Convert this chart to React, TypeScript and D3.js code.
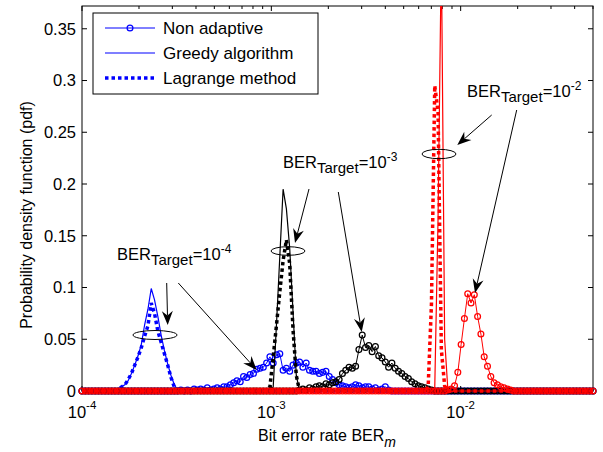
import React from 'react'
import * as d3 from 'd3'

const W = 603
const H = 452
const PLOT = { left: 82, top: 6, right: 593, bottom: 391 }

// log-spaced histogram bins over the BER axis
const BER_MIN = 1e-4
const BER_MAX = 5e-2
const N_BINS = 155
const PDF_MAX = 0.372

const yTicks = [0, 0.05, 0.1, 0.15, 0.2, 0.25, 0.3, 0.35]
const yTickLabels = ['0', '0.05', '0.1', '0.15', '0.2', '0.25', '0.3', '0.35']
const xMajorTicks = [1e-4, 1e-3, 1e-2]
const xMajorExp = ['-4', '-3', '-2']

// pdf values, given from the first non-zero bin (zero elsewhere)
const blueNonAdaptive = {
  start: 30,
  values: [0.001, 0, 0.001, 0, 0.002, 0.001, 0.002, 0.001, 0.003, 0.001,
    0.002, 0.003, 0.002, 0.004, 0.004, 0.006, 0.008, 0.010, 0.009, 0.014,
    0.013, 0.016, 0.017, 0.021, 0.022, 0.023, 0.027, 0.033, 0.027, 0.035,
    0.036, 0.020, 0.022, 0.019, 0.025, 0.027, 0.028, 0.023, 0.027, 0.020,
    0.019, 0.019, 0.017, 0.018, 0.019, 0.014, 0.011, 0.008, 0.006, 0.005,
    0.004, 0.003, 0.004, 0.006, 0.005, 0.003, 0.004, 0.004, 0.002, 0.003,
    0.001, 0.002, 0.004, 0.001]
}
const blueGreedy = {
  start: 10,
  values: [0.001, 0.002, 0.004, 0.006, 0.010, 0.017, 0.025, 0.034, 0.045, 0.064,
    0.079, 0.099, 0.088, 0.072, 0.054, 0.039, 0.026, 0.015, 0.006, 0.001]
}
const blueLagrange = {
  start: 11,
  values: [0.002, 0.004, 0.006, 0.011, 0.017, 0.025, 0.033, 0.042, 0.053, 0.063,
    0.085, 0.075, 0.058, 0.047, 0.036, 0.025, 0.013, 0.004, 0.001]
}
const blackNonAdaptive = {
  start: 66,
  values: [0.001, 0.002, 0.001, 0.003, 0.002, 0.004, 0.005, 0.004, 0.007, 0.006,
    0.008, 0.009, 0.011, 0.017, 0.020, 0.023, 0.022, 0.024, 0.040, 0.054,
    0.042, 0.044, 0.038, 0.043, 0.034, 0.032, 0.028, 0.023, 0.027, 0.022,
    0.019, 0.017, 0.014, 0.012, 0.009, 0.007, 0.005, 0.004, 0.003, 0.002, 0.001]
}
const blackGreedy = {
  start: 58,
  values: [0.004, 0.065, 0.13, 0.195, 0.176, 0.138, 0.077, 0.015]
}
const blackLagrange = {
  start: 57,
  values: [0.004, 0.033, 0.064, 0.096, 0.126, 0.146, 0.123, 0.06, 0.015]
}
const redNonAdaptive = {
  start: 111,
  values: [0.001, 0.002, 0.005, 0.018, 0.045, 0.070, 0.094, 0.085, 0.093, 0.072,
    0.055, 0.033, 0.024, 0.014, 0.008, 0.006, 0.004, 0.003, 0.002, 0.001]
}
const redGreedy = { start: 107, values: [0.003, 0.167, 0.425, 0.05] }
const redLagrange = { start: 105, values: [0.004, 0.084, 0.295, 0.27, 0.04, 0.005] }

const FONT = 'Liberation Sans, Arial, Helvetica, sans-serif'

const x = d3.scaleLog().domain([BER_MIN, BER_MAX]).range([PLOT.left, PLOT.right])
const y = d3.scaleLinear().domain([0, PDF_MAX]).range([PLOT.bottom, PLOT.top])

const grid = d3.range(N_BINS + 1).map(i => BER_MIN * Math.pow(BER_MAX / BER_MIN, i / N_BINS))

const expand = (s: { start: number; values: number[] }) =>
  grid.map((b, i) => {
    const k = i - s.start
    return { b, v: k >= 0 && k < s.values.length ? s.values[k] : 0 }
  })

const line = d3.line<{ b: number; v: number }>().x(d => x(d.b)).y(d => y(d.v))

const minorTicks: number[] = []
xMajorTicks.forEach(k => {
  for (let m = 2; m <= 9; m++) if (k * m <= BER_MAX * 1.0001) minorTicks.push(k * m)
})

type S = { start: number; values: number[] }
const groups: { color: string; na: S; gr: S; lg: S }[] = [
  { color: '#0000ff', na: blueNonAdaptive, gr: blueGreedy, lg: blueLagrange },
  { color: '#000000', na: blackNonAdaptive, gr: blackGreedy, lg: blackLagrange },
  { color: '#ff0000', na: redNonAdaptive, gr: redGreedy, lg: redLagrange }
]

const DOT = '3.5 3'
const MR = 2.9
const MW = 1.25

const Arrow = ({ x1, y1, x2, y2 }: { x1: number; y1: number; x2: number; y2: number }) => {
  const a = Math.atan2(y2 - y1, x2 - x1)
  const len = 14, half = 5.5, notch = 9.5
  const ux = Math.cos(a), uy = Math.sin(a)
  const px = -uy, py = ux
  const bx = x2 - ux * len, by = y2 - uy * len
  const nx = x2 - ux * notch, ny = y2 - uy * notch
  const pts = [
    [x2, y2],
    [bx + px * half, by + py * half],
    [nx, ny],
    [bx - px * half, by - py * half]
  ].map(p => p.join(',')).join(' ')
  return (
    <g>
      <line x1={x1} y1={y1} x2={nx} y2={ny} stroke="#000" strokeWidth={1} />
      <polygon points={pts} fill="#000" />
    </g>
  )
}

const Target = ({ tx, ty, exp }: { tx: number; ty: number; exp: string }) => (
  <text x={tx} y={ty} fontSize={16.5} fontFamily={FONT} fill="#000">
    BER<tspan dy={5} fontSize={15}>Target</tspan>
    <tspan dy={-5}>=10</tspan>
    <tspan dy={-7} fontSize={12}>{exp}</tspan>
  </text>
)

export default function App() {
  return (
    <svg width={W} height={H} style={{ position: 'absolute', left: 0, top: 0, background: '#fff' }}
      fontFamily={FONT}>
      <defs>
        <clipPath id="plotClip">
          <rect x={PLOT.left - 2} y={PLOT.top} width={PLOT.right - PLOT.left + 4} height={PLOT.bottom - PLOT.top + 8} />
        </clipPath>
      </defs>
      <rect x={0} y={0} width={W} height={H} fill="#fff" />

      {/* axes box */}
      <rect x={PLOT.left} y={PLOT.top} width={PLOT.right - PLOT.left} height={PLOT.bottom - PLOT.top}
        fill="none" stroke="#000" strokeWidth={1} />
      {yTicks.map(t => (
        <g key={'y' + t}>
          <line x1={PLOT.left} x2={PLOT.left + 5} y1={y(t)} y2={y(t)} stroke="#000" />
          <line x1={PLOT.right} x2={PLOT.right - 5} y1={y(t)} y2={y(t)} stroke="#000" />
        </g>
      ))}
      {xMajorTicks.map(t => (
        <g key={'x' + t}>
          <line x1={x(t)} x2={x(t)} y1={PLOT.bottom} y2={PLOT.bottom - 5} stroke="#000" />
          <line x1={x(t)} x2={x(t)} y1={PLOT.top} y2={PLOT.top + 5} stroke="#000" />
        </g>
      ))}
      {minorTicks.map(t => (
        <g key={'m' + t}>
          <line x1={x(t)} x2={x(t)} y1={PLOT.bottom} y2={PLOT.bottom - 3} stroke="#000" />
          <line x1={x(t)} x2={x(t)} y1={PLOT.top} y2={PLOT.top + 3} stroke="#000" />
        </g>
      ))}

      {/* data */}
      {groups.map(g => {
        const na = expand(g.na)
        return (
          <g key={g.color}>
            <g clipPath="url(#plotClip)">
              <path d={line(na) || ''} fill="none" stroke={g.color} strokeWidth={1} />
            </g>
            {na.map((d, i) => (
              <circle key={i} cx={x(d.b)} cy={y(d.v)} r={MR} fill="none" stroke={g.color} strokeWidth={MW} />
            ))}
            <g clipPath="url(#plotClip)">
              <path d={line(expand(g.gr)) || ''} fill="none" stroke={g.color} strokeWidth={1.2} />
              <path d={line(expand(g.lg)) || ''} fill="none" stroke={g.color} strokeWidth={3.5}
                strokeDasharray={DOT} />
            </g>
          </g>
        )
      })}

      {/* y tick labels */}
      {yTicks.map((t, i) => (
        <text key={'yl' + t} x={PLOT.left - 6} y={y(t)} dy="0.35em" textAnchor="end" fontSize={16.5}>
          {yTickLabels[i]}
        </text>
      ))}
      {/* x tick labels */}
      {xMajorTicks.map((t, i) => (
        <text key={'xl' + t} x={x(t)} y={418} textAnchor="middle" fontSize={16.5}>
          10<tspan dy={-9} fontSize={11.5}>{xMajorExp[i]}</tspan>
        </text>
      ))}

      <text x={327} y={441} textAnchor="middle" fontSize={16}>
        Bit error rate BER<tspan dy={6} fontStyle="italic" fontSize={14}>m</tspan>
      </text>
      <text transform="translate(32,215) rotate(-90)" textAnchor="middle" fontSize={16}>
        Probability density function (pdf)
      </text>

      {/* annotations */}
      <ellipse cx={155} cy={335} rx={22} ry={4.5} fill="none" stroke="#000" strokeWidth={1} />
      <ellipse cx={288} cy={251} rx={17} ry={4.3} fill="none" stroke="#000" strokeWidth={1} />
      <ellipse cx={439} cy={154} rx={17} ry={4.7} fill="none" stroke="#000" strokeWidth={1} />
      <Target tx={117} ty={260} exp="-4" />
      <Target tx={283} ty={168} exp="-3" />
      <Target tx={467} ty={97} exp="-2" />
      <Arrow x1={166.7} y1={283} x2={167.7} y2={325} />
      <Arrow x1={178.3} y1={283} x2={256.7} y2={370} />
      <Arrow x1={309} y1={189} x2={295} y2={243} />
      <Arrow x1={338.3} y1={192} x2={361.7} y2={332} />
      <Arrow x1={491.7} y1={115} x2={457.3} y2={145} />
      <Arrow x1={516.7} y1={110} x2={475} y2={293} />

      {/* legend */}
      <rect x={93} y={13} width={225} height={81} fill="#fff" stroke="#000" strokeWidth={1} />
      <line x1={105} x2={155} y1={28} y2={28} stroke="#0000ff" strokeWidth={1} />
      <circle cx={130} cy={28} r={MR} fill="none" stroke="#0000ff" strokeWidth={MW} />
      <text x={163} y={28} dy="0.35em" fontSize={17}>Non adaptive</text>
      <line x1={105} x2={155} y1={53} y2={53} stroke="#0000ff" strokeWidth={1.2} />
      <text x={163} y={53} dy="0.35em" fontSize={17}>Greedy algorithm</text>
      <line x1={105} x2={155} y1={78} y2={78} stroke="#0000ff" strokeWidth={3.5} strokeDasharray={DOT} />
      <text x={163} y={78} dy="0.35em" fontSize={17}>Lagrange method</text>
    </svg>
  )
}
